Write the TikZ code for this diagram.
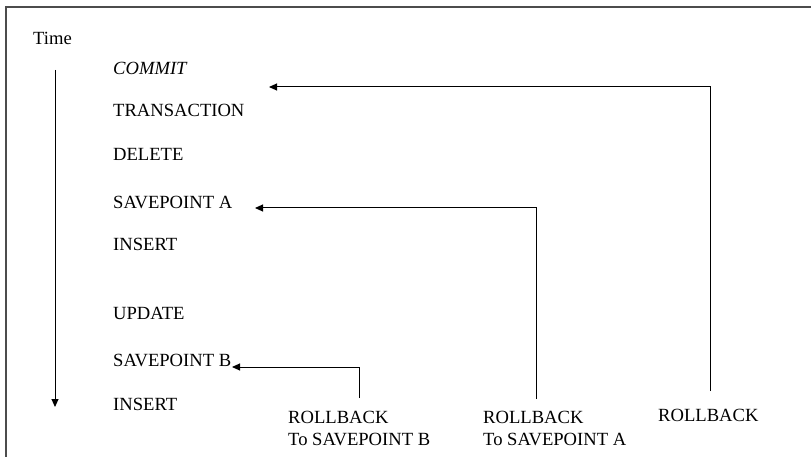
\documentclass[tikz,border=0pt]{standalone}
\usepackage{fontspec}
\setmainfont{Liberation Serif}
\usetikzlibrary{arrows.meta}
\begin{document}
\begin{tikzpicture}[x=1pt,y=-1pt,
  stmt/.style={inner sep=0pt,anchor=base west,font=\fontsize{18.6}{22}\selectfont},
  rblabel/.style={inner sep=0pt,anchor=north west,align=left,font=\fontsize{18.6}{22}\selectfont},
  link/.style={line width=1pt,-{Triangle[length=8pt,width=7pt]}},
  frame/.style={line width=1.6pt,draw=black!70}]
\useasboundingbox (0,0) rectangle (811,457);
% open frame: top and left edges only
\draw[frame] (6,457) -- (6,7) -- (811,7);

% time axis
\node[stmt] (time) at (33,45) {Time};
\coordinate (tstart) at (55,70);
\coordinate (tend) at (55,407);
\draw[link] (tstart) -- (tend);

% transaction statements
\node[stmt] (commit) at (113,75)  {\itshape COMMIT};
\node[stmt] (trans)  at (113,117) {TRANSACTION};
\node[stmt] (del)    at (113,161) {DELETE};
\node[stmt] (spA)    at (113,209) {SAVEPOINT A};
\node[stmt] (ins1)   at (113,251) {INSERT};
\node[stmt] (upd)    at (113,319) {UPDATE};
\node[stmt] (spB)    at (113,366) {SAVEPOINT B};
\node[stmt] (ins2)   at (113,410) {INSERT};

% rollback labels (top of the capitals just below each connector foot)
\node[rblabel] (rbB) at (288,411) {ROLLBACK\\To SAVEPOINT B};
\node[rblabel] (rbA) at (483,411) {ROLLBACK\\To SAVEPOINT A};
\node[rblabel] (rb)  at (658,409) {ROLLBACK};

% connector feet above each label
\coordinate (footB) at (359,398);
\coordinate (footA) at (536,399);
\coordinate (foot)  at (710,391);
\coordinate (tipB)  at (232,367);
\coordinate (tipA)  at (255,208);
\coordinate (tip)   at (269,87);

\draw[link] (footB) |- (tipB);
\draw[link] (footA) |- (tipA);
\draw[link] (foot)  |- (tip);
\end{tikzpicture}
\end{document}
